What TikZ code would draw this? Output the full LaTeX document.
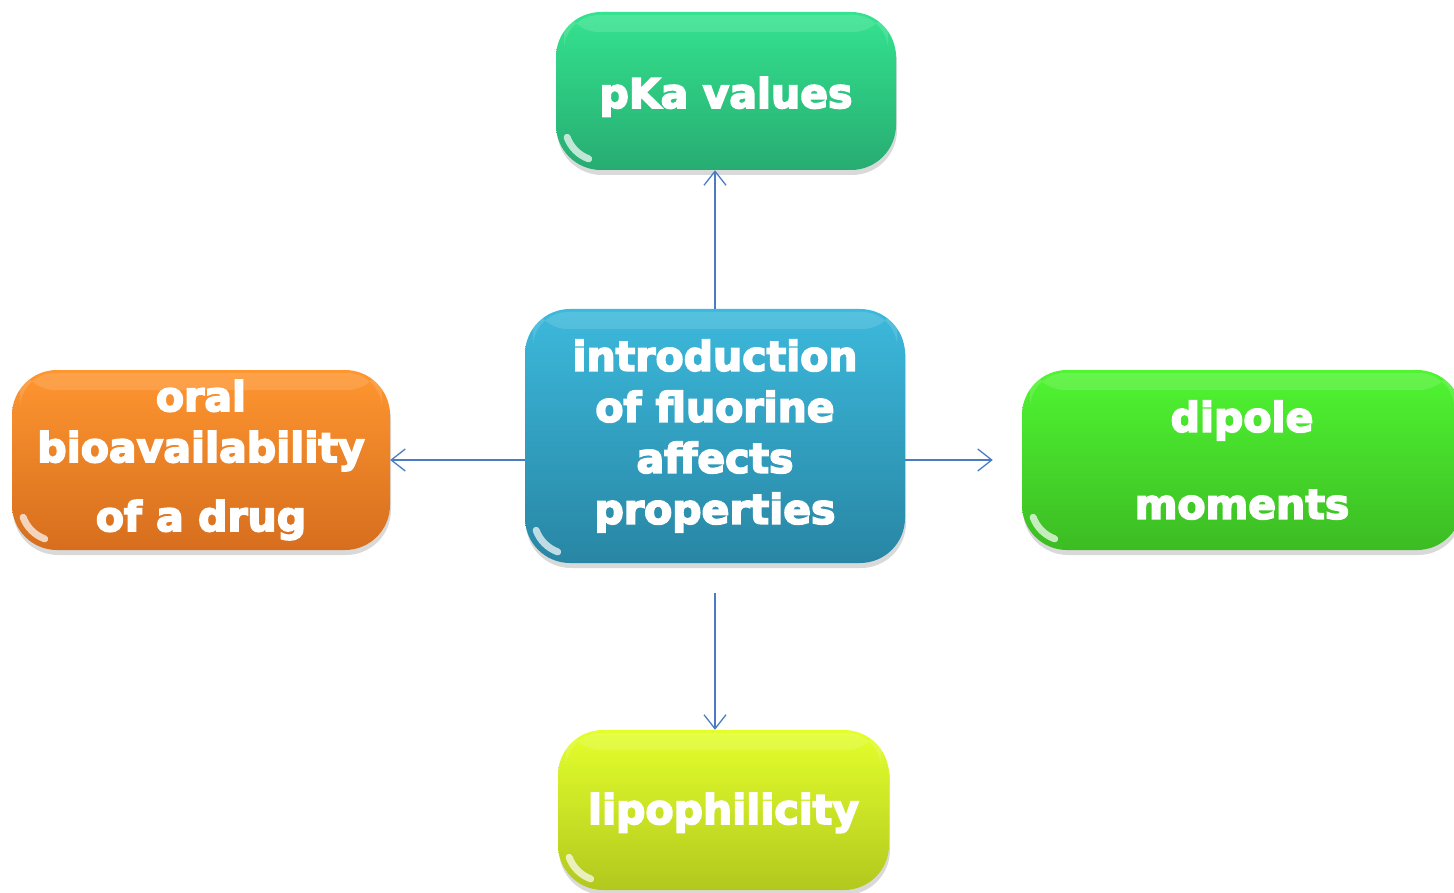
\documentclass[tikz,border=0pt]{standalone}
\usepackage{fontspec}
\newfontfamily\boxfont{DejaVu Sans Bold}[FakeBold=4]
\usetikzlibrary{arrows.meta,shadows}
\definecolor{conncol}{HTML}{4A7CC4}
\definecolor{pkatop}{RGB}{52,227,143}
\definecolor{pkabot}{RGB}{39,172,114}
\definecolor{ctop}{RGB}{60,185,220}
\definecolor{cbot}{RGB}{40,134,164}
\definecolor{otop}{RGB}{255,150,48}
\definecolor{obot}{RGB}{214,110,30}
\definecolor{dtop}{RGB}{80,245,50}
\definecolor{dbot}{RGB}{60,188,35}
\definecolor{ltop}{RGB}{228,255,44}
\definecolor{lbot}{RGB}{178,200,30}
\tikzset{
  glossbox/.style 2 args={rounded corners=45pt, top color=#1, bottom color=#2,
    draw=none, text=white, align=center,
    font=\boxfont\fontsize{41}{51}\selectfont,
    drop shadow={opacity=0.3, shadow xshift=1pt, shadow yshift=-5pt},
    path picture={
      \fill[white,opacity=0.13,rounded corners=35pt]
        ([xshift=8pt,yshift=-3pt]path picture bounding box.north west) rectangle
        ([xshift=-8pt,yshift=-20pt]path picture bounding box.north east);
      \draw[white,opacity=0.7,line width=7pt,line cap=round]
        ([xshift=45pt,yshift=45pt]path picture bounding box.south west)
        ++(200:36pt) arc[start angle=200,end angle=250,radius=36pt];
    }},
  conn/.style={draw=conncol, line width=1.3pt, -{Straight Barb[length=14pt,width=22pt,line width=1.3pt]}},
}
\begin{document}
\begin{tikzpicture}[x=1pt,y=-1pt]
\useasboundingbox (0,0) rectangle (1454,893);
\node[glossbox={pkatop}{pkabot}, minimum width=340pt, minimum height=158pt, text height=44pt, text depth=10pt] (pka) at (726,91) {pKa values};
\node[glossbox={ctop}{cbot}, minimum width=380pt, minimum height=254pt] (c) at (715,436) {introduction\\of fluorine\\affects\\properties};
\node[glossbox={otop}{obot}, minimum width=378pt, minimum height=180pt] (oral) at (201,460) {oral\\bioavailability\\[18pt]of a drug};
\node[glossbox={dtop}{dbot}, minimum width=440pt, minimum height=180pt] (dip) at (1242,460) {dipole\\[36pt]moments};
\node[glossbox={ltop}{lbot}, minimum width=331pt, minimum height=160pt, text height=38pt, text depth=10pt] (lip) at (723.5,810) {lipophilicity};
\draw[conn] (c.north) -- (c.north |- pka.south);
\draw[conn] (c.west |- oral.east) -- (oral.east);
\draw[conn, shorten >=29pt] (c.east |- dip.west) -- (dip.west);
\draw[conn, shorten <=30pt] (c.south) -- (c.south |- lip.north);
\end{tikzpicture}
\end{document}
